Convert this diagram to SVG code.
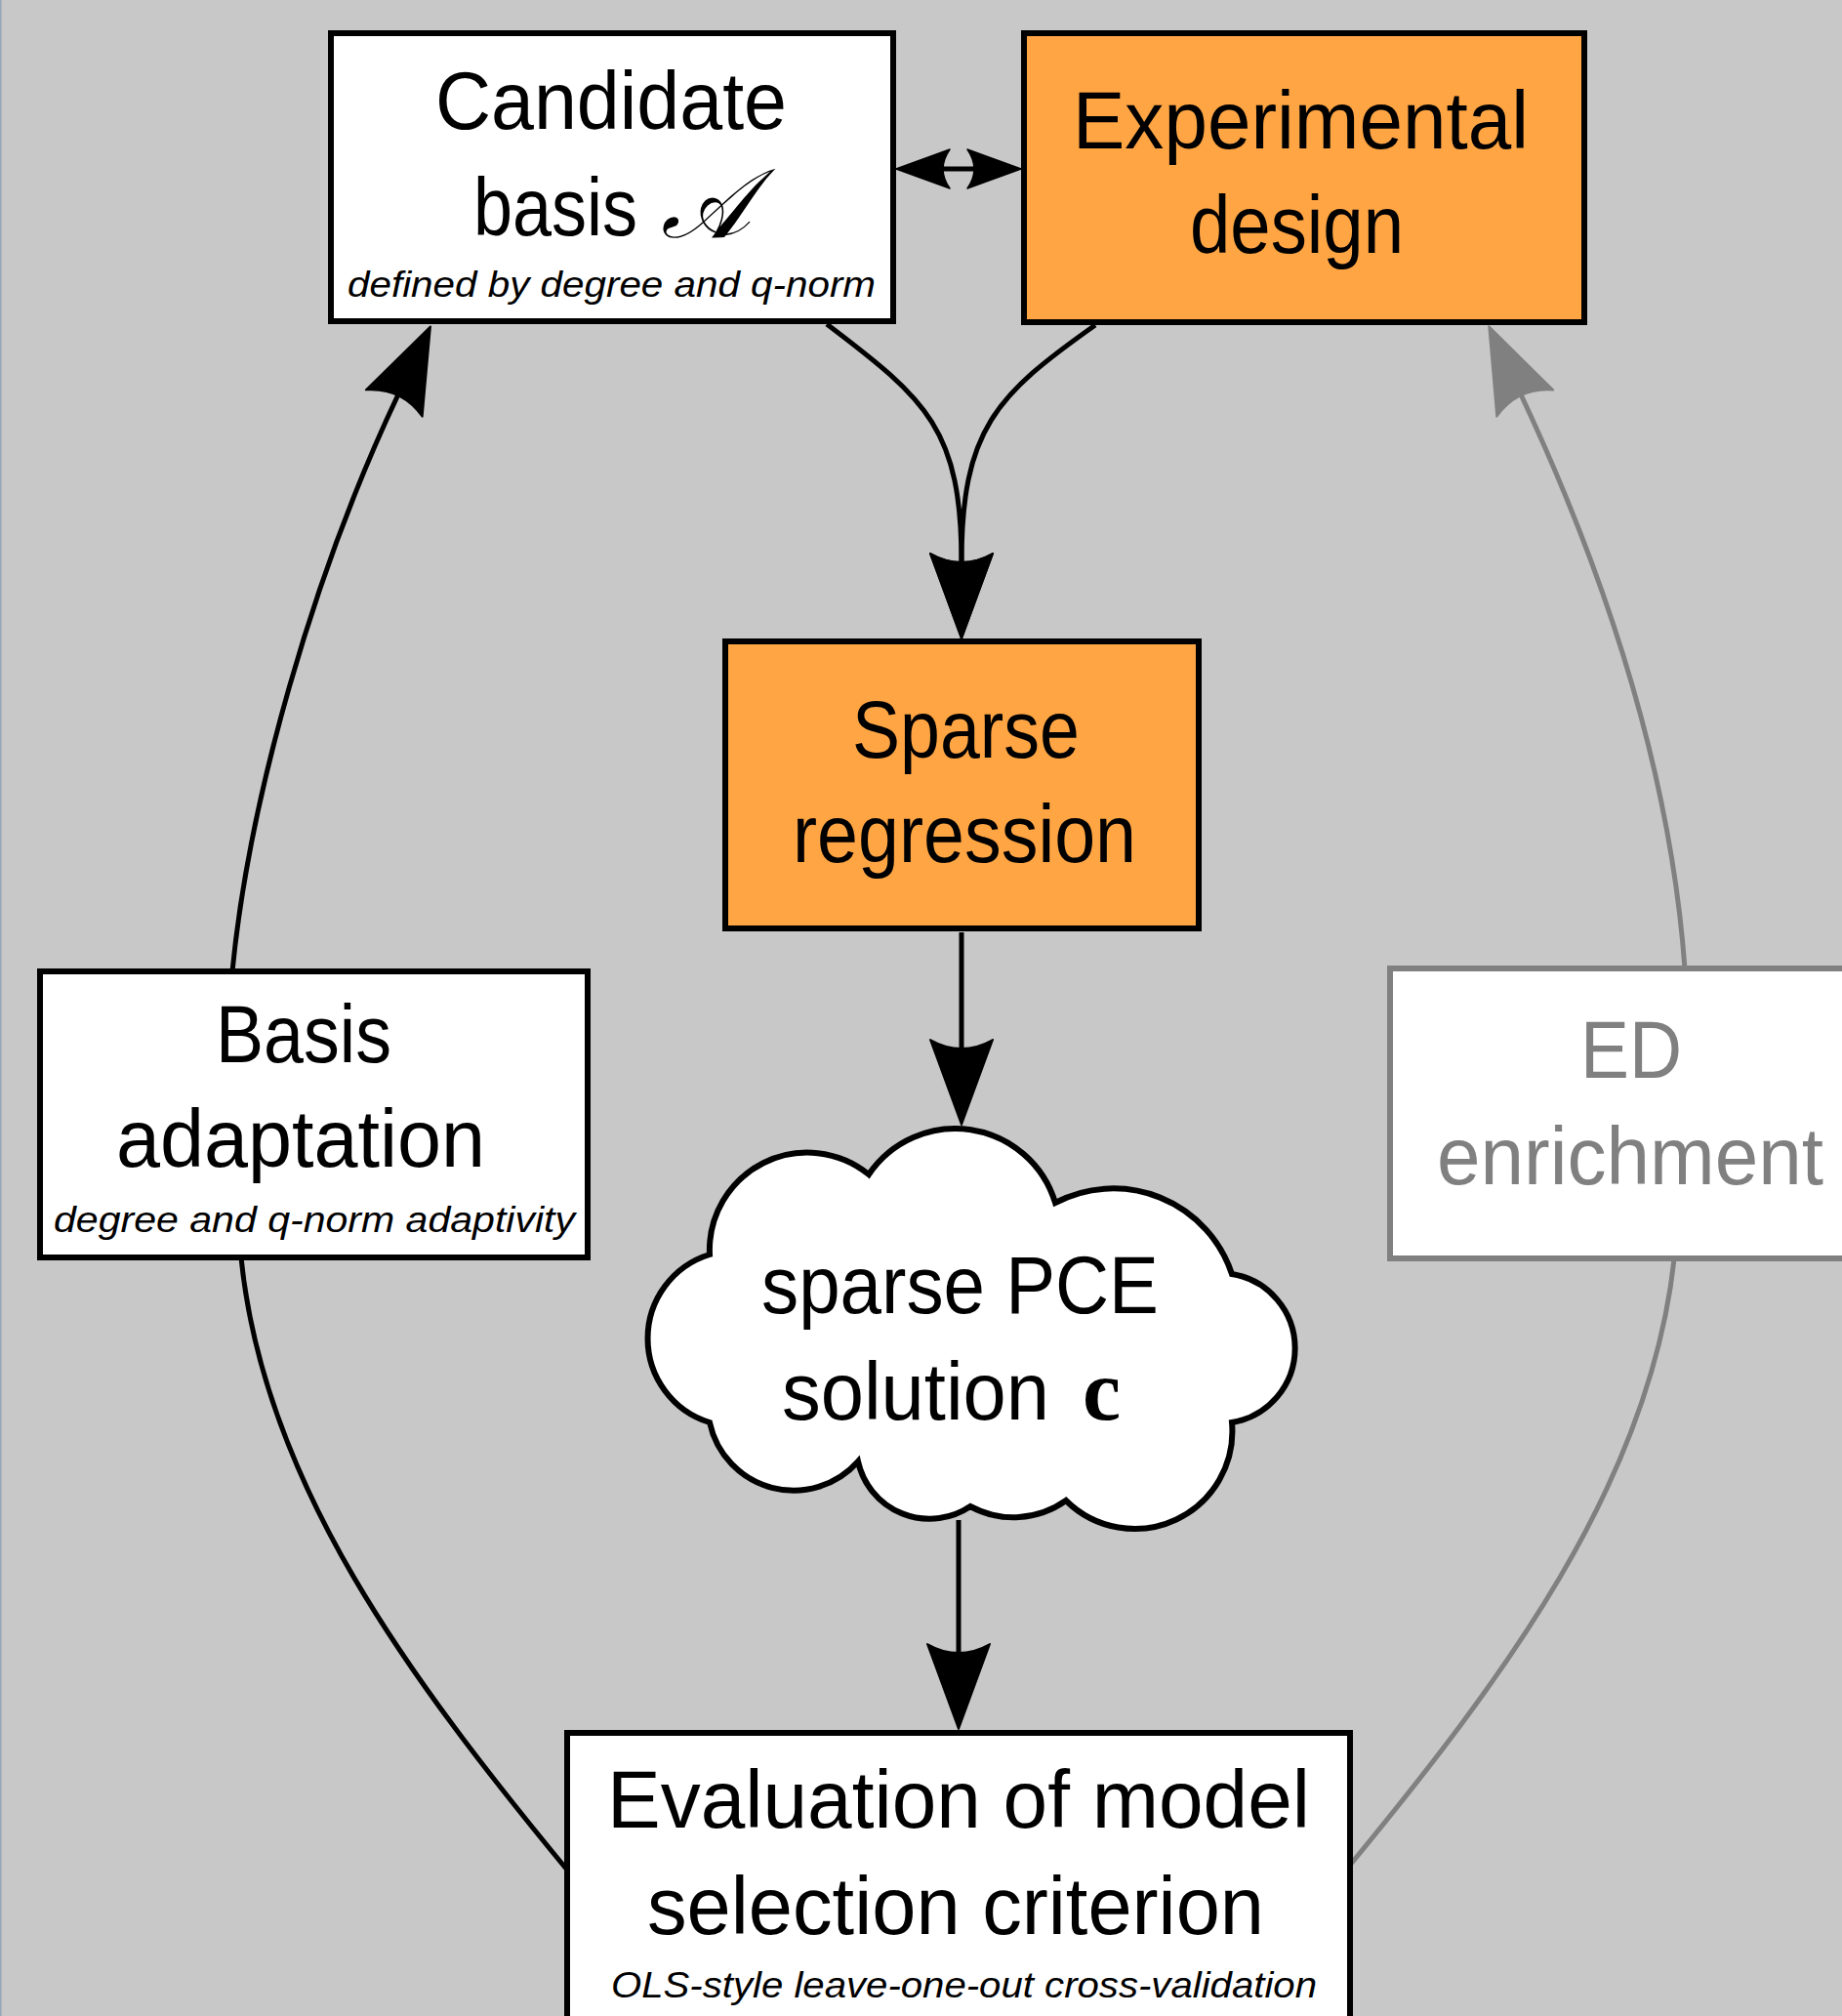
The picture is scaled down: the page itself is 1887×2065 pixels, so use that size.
<svg xmlns="http://www.w3.org/2000/svg" width="1887" height="2065" viewBox="0 0 1887 2065">
<defs>
<style>
.bg{fill:#c8c8c8}
.box{stroke:#000;stroke-width:6;fill:#fff}
.org{fill:#ffa544}
.gbox{stroke:#808080;stroke-width:6;fill:#fff}
.t{font-family:"Liberation Sans",Arial,sans-serif;font-size:84px;fill:#000}
.g{fill:#808080}
.i{font-family:"Liberation Sans",Arial,sans-serif;font-size:36px;font-style:italic;fill:#000}
.c{fill:none;stroke:#000;stroke-width:5}
.cg{fill:none;stroke:#808080;stroke-width:5}
.cal{font-family:"DejaVu Serif","Liberation Serif",serif;font-style:italic;font-size:100px;fill:#000}
.bc{font-family:"Liberation Serif","DejaVu Serif",serif;font-weight:bold;font-size:88px;fill:#000}
</style>
<marker id="big" markerUnits="userSpaceOnUse" viewBox="-4 -36 96 72" markerWidth="96" markerHeight="72" refX="10" refY="0" orient="auto" overflow="visible">
<path d="M87,0 L0,-32 Q18,0 0,32 Z" fill="#000" stroke="#000" stroke-width="2" stroke-linejoin="round"/>
</marker>
<marker id="bigg" markerUnits="userSpaceOnUse" viewBox="-4 -36 96 72" markerWidth="96" markerHeight="72" refX="10" refY="0" orient="auto" overflow="visible">
<path d="M87,0 L0,-32 Q18,0 0,32 Z" fill="#808080" stroke="#808080" stroke-width="2" stroke-linejoin="round"/>
</marker>
<marker id="small" markerUnits="userSpaceOnUse" viewBox="-2 -24 60 48" markerWidth="60" markerHeight="48" refX="8" refY="0" orient="auto-start-reverse" overflow="visible">
<path d="M55,0 L0,-20 Q14,0 0,20 Z" fill="#000" stroke="#000" stroke-width="1.5" stroke-linejoin="round"/>
</marker>
</defs>
<rect class="bg" x="0" y="0" width="1887" height="2065"/>
<rect x="0" y="0" width="1.5" height="2065" fill="#97a5bb"/>

<g id="connectors">
<path class="c" d="M847,332 C950,410 985,440 985,577" marker-end="url(#big)"/>
<path class="c" d="M1122,333 C1020,405 985,440 985,577" marker-end="url(#big)"/>
<path class="c" d="M985,955 L985,1075" marker-end="url(#big)"/>
<path class="c" d="M982,1557 L982,1694" marker-end="url(#big)"/>
<path class="c" d="M238,995 C255,820 320,590 408,404" marker-end="url(#big)"/>
<path class="c" d="M247,1288 C270,1520 420,1720 584,1919"/>
<path class="cg" d="M1715,1290 C1690,1520 1540,1720 1380,1914"/>
<path class="cg" d="M1726,992 C1712,800 1650,600 1558,404" marker-end="url(#bigg)"/>
<path class="c" d="M965,173 L999,173" marker-start="url(#small)" marker-end="url(#small)"/>
</g>

<g id="candidate">
<rect class="box" x="339" y="34" width="576" height="295"/>
<text class="t" x="446" y="132" textLength="360" lengthAdjust="spacingAndGlyphs">Candidate</text>
<text class="t" x="485" y="241" textLength="168" lengthAdjust="spacingAndGlyphs">basis</text>
<text class="cal" x="677" y="243" textLength="92" lengthAdjust="spacingAndGlyphs">𝒜</text>
<text class="i" x="356" y="304" textLength="541" lengthAdjust="spacingAndGlyphs">defined by degree and q-norm</text>
</g>

<g id="experimental">
<rect class="box org" x="1049" y="34" width="574" height="296"/>
<text class="t" x="1099" y="152" textLength="467" lengthAdjust="spacingAndGlyphs">Experimental</text>
<text class="t" x="1219" y="259" textLength="219" lengthAdjust="spacingAndGlyphs">design</text>
</g>

<g id="sparse">
<rect class="box org" x="743" y="657" width="485" height="294"/>
<text class="t" x="873" y="776" textLength="233" lengthAdjust="spacingAndGlyphs">Sparse</text>
<text class="t" x="812" y="883" textLength="352" lengthAdjust="spacingAndGlyphs">regression</text>
</g>

<g id="basis">
<rect class="box" x="41" y="995" width="561" height="293"/>
<text class="t" x="221" y="1088" textLength="180" lengthAdjust="spacingAndGlyphs">Basis</text>
<text class="t" x="119" y="1195" textLength="378" lengthAdjust="spacingAndGlyphs">adaptation</text>
<text class="i" x="55" y="1262" textLength="534" lengthAdjust="spacingAndGlyphs">degree and q-norm adaptivity</text>
</g>

<g id="ed">
<rect class="gbox" x="1424" y="992" width="600" height="297"/>
<text class="t g" x="1619" y="1104" textLength="104" lengthAdjust="spacingAndGlyphs">ED</text>
<text class="t g" x="1472" y="1213" textLength="396" lengthAdjust="spacingAndGlyphs">enrichment</text>
</g>

<g id="cloud">
<path class="box" d="M727,1285 A100,100 0 0 1 890,1203 A107,107 0 0 1 1081,1232 A128,128 0 0 1 1262,1305 A77,77 0 0 1 1262,1457 A100,100 0 0 1 1092,1537 A93,93 0 0 1 994,1543 A75,75 0 0 1 879,1497 A88,88 0 0 1 727,1457 A90,90 0 0 1 727,1285 Z"/>
<text class="t" x="780" y="1345" textLength="407" lengthAdjust="spacingAndGlyphs">sparse PCE</text>
<text class="t" x="801" y="1454" textLength="274" lengthAdjust="spacingAndGlyphs">solution</text>
<text class="bc" x="1109" y="1454">c</text>
</g>

<g id="evaluation">
<rect class="box" x="581" y="1775" width="802" height="400"/>
<text class="t" x="622" y="1872" textLength="720" lengthAdjust="spacingAndGlyphs">Evaluation of model</text>
<text class="t" x="663" y="1981" textLength="632" lengthAdjust="spacingAndGlyphs">selection criterion</text>
<text class="i" x="626" y="2046" textLength="723" lengthAdjust="spacingAndGlyphs">OLS-style leave-one-out cross-validation</text>
</g>
</svg>
